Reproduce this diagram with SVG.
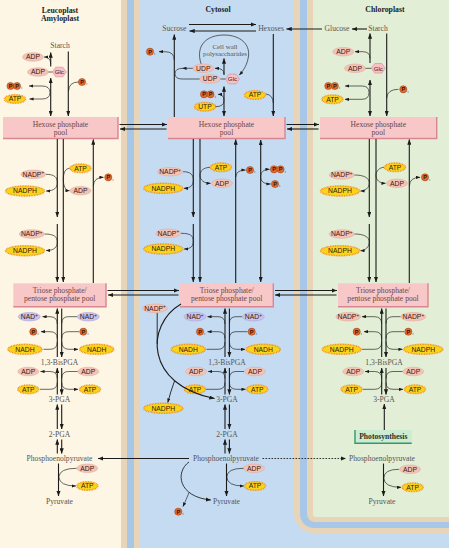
<svg xmlns="http://www.w3.org/2000/svg" width="449" height="548" viewBox="0 0 449 548">
<defs>
<marker id="a" viewBox="0 0 8 6" refX="7.6" refY="3" markerWidth="5.5" markerHeight="4.2" markerUnits="userSpaceOnUse" orient="auto-start-reverse"><path d="M0,0 L8,3 L0,6 z" fill="#1b1b1b"/></marker>
<marker id="s" viewBox="0 0 8 6" refX="7.6" refY="3" markerWidth="4.3" markerHeight="3.3" markerUnits="userSpaceOnUse" orient="auto-start-reverse"><path d="M0,0 L8,3 L0,6 z" fill="#1b1b1b"/></marker>
<style>
.lb{font-family:"Liberation Serif","Times New Roman",serif;font-size:7.6px;fill:#555;text-anchor:middle}
.bx{font-family:"Liberation Serif","Times New Roman",serif;font-size:7.6px;fill:#6b4646;text-anchor:middle}
.tt{font-family:"Liberation Serif","Times New Roman",serif;font-size:7.8px;font-weight:bold;fill:#222;text-anchor:middle}
.ph{font-family:"Liberation Serif","Times New Roman",serif;font-size:7.6px;font-weight:bold;fill:#1d3326;text-anchor:middle}
.mt{font-family:"Liberation Sans",Arial,sans-serif;font-size:6.8px;fill:#3a160c;text-anchor:middle}
.sup{font-size:4.6px}
.pk{fill:#f3c3b7;stroke:#e3a493;stroke-width:.5}
.yl{fill:#f9d41b;stroke:#f2901c;stroke-width:1.5;stroke-dasharray:.9 .7}
.lv{fill:#c9c3ec;stroke:#a49cd8;stroke-width:.5}
.pc{fill:#e06b2c;stroke:#8c3212;stroke-width:.45}
.pt{font-family:"Liberation Sans",Arial,sans-serif;font-size:5.6px;font-weight:bold;fill:#3a1206;text-anchor:middle}
.ps{font-family:"Liberation Sans",Arial,sans-serif;font-size:4.2px;fill:#333;text-anchor:middle}
.gl{fill:#f6c2c6;stroke:#d9848d;stroke-width:.6}
.gt{font-family:"Liberation Sans",Arial,sans-serif;font-size:6.2px;fill:#3a160c;text-anchor:middle}
.box{fill:#f8c8c9}
.bsh{fill:none;stroke:#d8868f;stroke-width:1.4}
.pbox{fill:#cdebd3}
.pbsh{fill:none;stroke:#2e9b6a;stroke-width:1.4}
.ln{fill:none;stroke:#1b1b1b;stroke-width:1.1}
.cv{fill:none;stroke:#1b1b1b;stroke-width:.65}
.dt{stroke-dasharray:1.6 1.4;stroke-width:.9}
.e{marker-end:url(#a)}
.sa{marker-start:url(#a)}
.es{marker-end:url(#s)}
.ss{marker-start:url(#s)}
</style>
</defs>

<g id="background">
<rect width="449" height="548" fill="#c5dbf1"/>
<rect width="121" height="548" fill="#fdf6e4"/>
<rect x="121" width="6" height="548" fill="#e8d4b7"/>
<rect x="127" width="7" height="548" fill="#a7c7e8"/>
<rect x="134" width="6" height="548" fill="#e8d4b7"/>
<rect x="294" y="-40" width="200" height="573" rx="20" fill="#e8d4b7"/>
<rect x="300" y="-40" width="200" height="568" rx="14" fill="#a7c7e8"/>
<rect x="307" y="-40" width="200" height="562" rx="8" fill="#e8d4b7"/>
<rect x="313" y="-40" width="200" height="557" rx="3" fill="#e3eed6"/>
</g>

<g id="titles">
<text class="tt" x="60" y="13">Leucoplast</text>
<text class="tt" x="60" y="21">Amyloplast</text>
<text class="tt" x="218" y="12">Cytosol</text>
<text class="tt" x="385" y="12">Chloroplast</text>
</g>

<g id="labels">
<text id="L_starch" class="lb" x="60" y="48">Starch</text>
<text id="C_sucrose" class="lb" x="174.3" y="31">Sucrose</text>
<text id="C_hexoses" class="lb" x="271" y="31">Hexoses</text>
<text id="P_glucose" class="lb" x="337" y="31">Glucose</text>
<text id="P_starch" class="lb" x="378" y="31">Starch</text>
<text id="C_cellwall" class="lb" x="225" y="48.5" style="font-size:6.9px">Cell wall</text>
<text id="C_polysacch" class="lb" x="225" y="55.5" style="font-size:6.9px">polysaccharides</text>
<text class="lb" x="59.5" y="365">1,3-BisPGA</text>
<text class="lb" x="227" y="365">1,3-BisPGA</text>
<text class="lb" x="384" y="365">1,3-BisPGA</text>
<text class="lb" x="59.5" y="401.5">3-PGA</text>
<text class="lb" x="227" y="401.5">3-PGA</text>
<text class="lb" x="384" y="401.5">3-PGA</text>
<text class="lb" x="59.5" y="436.5">2-PGA</text>
<text class="lb" x="227" y="436.5">2-PGA</text>
<text class="lb" x="59.5" y="461">Phosphoenolpyruvate</text>
<text class="lb" x="226" y="461">Phosphoenolpyruvate</text>
<text class="lb" x="382" y="461">Phosphoenolpyruvate</text>
<text class="lb" x="59.5" y="504">Pyruvate</text>
<text class="lb" x="226.5" y="504">Pyruvate</text>
<text class="lb" x="382" y="504">Pyruvate</text>
</g>

<g id="boxes">
<g id="L_hexpool"><rect class="box" x="3" y="117" width="115" height="21.5"/><path class="bsh" d="M118,117 V138.5 H3"/><text class="bx" x="60.5" y="127.3">Hexose phosphate</text><text class="bx" x="60.5" y="135.3">pool</text></g>
<g id="C_hexpool"><rect class="box" x="168" y="117" width="117" height="21.5"/><path class="bsh" d="M285,117 V138.5 H168"/><text class="bx" x="226.5" y="127.3">Hexose phosphate</text><text class="bx" x="226.5" y="135.3">pool</text></g>
<g id="P_hexpool"><rect class="box" x="320" y="117" width="116.7" height="21.5"/><path class="bsh" d="M436.7,117 V138.5 H320"/><text class="bx" x="378.3" y="127.3">Hexose phosphate</text><text class="bx" x="378.3" y="135.3">pool</text></g>
<g id="L_tripool"><rect class="box" x="13.3" y="283.3" width="92.7" height="23.4"/><path class="bsh" d="M106,283.3 V306.7 H13.3"/><text class="bx" x="59.7" y="292.8">Triose phosphate/</text><text class="bx" x="59.7" y="300.8">pentose phosphate pool</text></g>
<g id="C_tripool"><rect class="box" x="180" y="283.3" width="93.3" height="23.4"/><path class="bsh" d="M273.3,283.3 V306.7 H180"/><text class="bx" x="226.7" y="292.8">Triose phosphate/</text><text class="bx" x="226.7" y="300.8">pentose phosphate pool</text></g>
<g id="P_tripool"><rect class="box" x="338" y="283.3" width="90" height="23.4"/><path class="bsh" d="M428,283.3 V306.7 H338"/><text class="bx" x="383" y="292.8">Triose phosphate/</text><text class="bx" x="383" y="300.8">pentose phosphate pool</text></g>
<g id="P_photosynthesis"><rect class="pbox" x="355" y="430" width="56.7" height="13.3"/><path class="pbsh" d="M355,430 V443.3 H411.7"/><text class="ph" x="383.3" y="439.3">Photosynthesis</text></g>
</g>

<g id="molecules-leucoplast">
<g id="L_ADP1"><ellipse class="pk" cx="33" cy="57" rx="10.5" ry="4.3"/><text class="mt" x="33" y="59.4">ADP</text></g>
<g id="L_ADP2"><ellipse class="pk" cx="38" cy="72" rx="10.5" ry="4.3"/><text class="mt" x="38" y="74.4">ADP</text></g>
<g id="L_Glc"><polygon class="gl" points="52.3,72 55.8,67.2 62.8,67.2 66.3,72 62.8,76.8 55.8,76.8"/><text class="gt" x="59.3" y="74.2">Glc</text></g>
<g id="L_PPi"><circle class="pc" cx="10.5" cy="86" r="3.6"/><text class="pt" x="10.5" y="88">P</text><circle class="pc" cx="17" cy="86" r="3.6"/><text class="pt" x="17" y="88">P</text><text class="ps" x="21.6" y="89.4">i</text></g>
<g id="L_ATP1"><ellipse class="yl" cx="15" cy="99" rx="10.5" ry="4.3"/><text class="mt" x="15" y="101.4">ATP</text></g>
<g id="L_Pi1"><circle class="pc" cx="82" cy="82" r="3.6"/><text class="pt" x="82" y="84">P</text><text class="ps" x="86.6" y="85.4">i</text></g>
<g id="L_NADP1"><ellipse class="pk" cx="33.3" cy="174.3" rx="12.5" ry="4.3"/><text class="mt" x="33.3" y="176.7">NADP<tspan class="sup" dy="-2.6">+</tspan></text></g>
<g id="L_NADPH1"><ellipse class="yl" cx="25" cy="191" rx="19.5" ry="5"/><text class="mt" x="25" y="193.4">NADPH</text></g>
<g id="L_ATP2"><ellipse class="yl" cx="80.5" cy="168.3" rx="10.5" ry="4.3"/><text class="mt" x="80.5" y="170.7">ATP</text></g>
<g id="L_ADP3"><ellipse class="pk" cx="80.5" cy="190.7" rx="10.5" ry="4.3"/><text class="mt" x="80.5" y="193.1">ADP</text></g>
<g id="L_Pi2"><circle class="pc" cx="108.3" cy="177.3" r="3.6"/><text class="pt" x="108.3" y="179.3">P</text><text class="ps" x="112.9" y="180.7">i</text></g>
<g id="L_NADP2"><ellipse class="pk" cx="31.7" cy="234" rx="12.5" ry="4.3"/><text class="mt" x="31.7" y="236.4">NADP<tspan class="sup" dy="-2.6">+</tspan></text></g>
<g id="L_NADPH2"><ellipse class="yl" cx="25" cy="250.7" rx="19.5" ry="5"/><text class="mt" x="25" y="253.1">NADPH</text></g>
<g id="L_NAD1"><ellipse class="lv" cx="29.3" cy="316.7" rx="11" ry="4.3"/><text class="mt" x="29.3" y="319.1">NAD<tspan class="sup" dy="-2.6">+</tspan></text></g>
<g id="L_Pi3"><circle class="pc" cx="33.3" cy="331.7" r="3.6"/><text class="pt" x="33.3" y="333.7">P</text><text class="ps" x="37.9" y="335.1">i</text></g>
<g id="L_NADH1"><ellipse class="yl" cx="25" cy="349.3" rx="17" ry="5"/><text class="mt" x="25" y="351.7">NADH</text></g>
<g id="L_NAD2"><ellipse class="lv" cx="88.3" cy="316.7" rx="11" ry="4.3"/><text class="mt" x="88.3" y="319.1">NAD<tspan class="sup" dy="-2.6">+</tspan></text></g>
<g id="L_Pi4"><circle class="pc" cx="83.3" cy="331.7" r="3.6"/><text class="pt" x="83.3" y="333.7">P</text><text class="ps" x="87.9" y="335.1">i</text></g>
<g id="L_NADH2"><ellipse class="yl" cx="96.7" cy="349.3" rx="17" ry="5"/><text class="mt" x="96.7" y="351.7">NADH</text></g>
<g id="L_ADP4"><ellipse class="pk" cx="28.3" cy="371.5" rx="10.5" ry="4.3"/><text class="mt" x="28.3" y="373.9">ADP</text></g>
<g id="L_ATP3"><ellipse class="yl" cx="28.3" cy="389.3" rx="10.5" ry="4.3"/><text class="mt" x="28.3" y="391.7">ATP</text></g>
<g id="L_ADP5"><ellipse class="pk" cx="88.3" cy="371.5" rx="10.5" ry="4.3"/><text class="mt" x="88.3" y="373.9">ADP</text></g>
<g id="L_ATP4"><ellipse class="yl" cx="90" cy="389.3" rx="10.5" ry="4.3"/><text class="mt" x="90" y="391.7">ATP</text></g>
<g id="L_ADP6"><ellipse class="pk" cx="87.3" cy="468.3" rx="10.5" ry="4.3"/><text class="mt" x="87.3" y="470.7">ADP</text></g>
<g id="L_ATP5"><ellipse class="yl" cx="87.3" cy="486" rx="10.5" ry="4.3"/><text class="mt" x="87.3" y="488.4">ATP</text></g>
</g>

<g id="molecules-cytosol">
<g id="C_Pi1"><circle class="pc" cx="150" cy="51.7" r="3.6"/><text class="pt" x="150" y="53.7">P</text><text class="ps" x="154.6" y="55.1">i</text></g>
<g id="C_UDP1"><ellipse class="pk" cx="203.3" cy="68.3" rx="10.5" ry="4.3"/><text class="mt" x="203.3" y="70.7">UDP</text></g>
<g id="C_UDP2"><ellipse class="pk" cx="210" cy="79" rx="10.5" ry="4.3"/><text class="mt" x="210" y="81.4">UDP</text></g>
<g id="C_Glc"><polygon class="gl" points="225.5,79 229,74.2 236,74.2 239.5,79 236,83.8 229,83.8"/><text class="gt" x="232.5" y="81.2">Glc</text></g>
<g id="C_PPi1"><circle class="pc" cx="204" cy="94.3" r="3.6"/><text class="pt" x="204" y="96.3">P</text><circle class="pc" cx="210.5" cy="94.3" r="3.6"/><text class="pt" x="210.5" y="96.3">P</text><text class="ps" x="215.1" y="97.7">i</text></g>
<g id="C_UTP"><ellipse class="yl" cx="205" cy="106.7" rx="10.5" ry="4.3"/><text class="mt" x="205" y="109.1">UTP</text></g>
<g id="C_ATP1"><ellipse class="yl" cx="255" cy="95" rx="10.5" ry="4.3"/><text class="mt" x="255" y="97.4">ATP</text></g>
<g id="C_NADP1"><ellipse class="pk" cx="170" cy="171.7" rx="12.5" ry="4.3"/><text class="mt" x="170" y="174.1">NADP<tspan class="sup" dy="-2.6">+</tspan></text></g>
<g id="C_NADPH1"><ellipse class="yl" cx="163.3" cy="188.3" rx="19.5" ry="5"/><text class="mt" x="163.3" y="190.7">NADPH</text></g>
<g id="C_ATP2"><ellipse class="yl" cx="221" cy="167.3" rx="10.5" ry="4.3"/><text class="mt" x="221" y="169.7">ATP</text></g>
<g id="C_ADP1"><ellipse class="pk" cx="222" cy="183.3" rx="10.5" ry="4.3"/><text class="mt" x="222" y="185.7">ADP</text></g>
<g id="C_Pi2"><circle class="pc" cx="250" cy="170" r="3.6"/><text class="pt" x="250" y="172">P</text><text class="ps" x="254.6" y="173.4">i</text></g>
<g id="C_PPi2"><circle class="pc" cx="274" cy="169.3" r="3.6"/><text class="pt" x="274" y="171.3">P</text><circle class="pc" cx="280.5" cy="169.3" r="3.6"/><text class="pt" x="280.5" y="171.3">P</text><text class="ps" x="285.1" y="172.7">i</text></g>
<g id="C_Pi3"><circle class="pc" cx="275" cy="184" r="3.6"/><text class="pt" x="275" y="186">P</text><text class="ps" x="279.6" y="187.4">i</text></g>
<g id="C_NADP2"><ellipse class="pk" cx="168.3" cy="233.3" rx="12.5" ry="4.3"/><text class="mt" x="168.3" y="235.7">NADP<tspan class="sup" dy="-2.6">+</tspan></text></g>
<g id="C_NADPH2"><ellipse class="yl" cx="163.3" cy="249" rx="19.5" ry="5"/><text class="mt" x="163.3" y="251.4">NADPH</text></g>
<g id="C_NADP3"><ellipse class="pk" cx="155" cy="308.3" rx="12.5" ry="4.3"/><text class="mt" x="155" y="310.7">NADP<tspan class="sup" dy="-2.6">+</tspan></text></g>
<g id="C_NADPH3"><ellipse class="yl" cx="163.3" cy="408.3" rx="19.5" ry="5"/><text class="mt" x="163.3" y="410.7">NADPH</text></g>
<g id="C_NAD1"><ellipse class="lv" cx="195" cy="316.7" rx="11" ry="4.3"/><text class="mt" x="195" y="319.1">NAD<tspan class="sup" dy="-2.6">+</tspan></text></g>
<g id="C_Pi4"><circle class="pc" cx="200" cy="331.7" r="3.6"/><text class="pt" x="200" y="333.7">P</text><text class="ps" x="204.6" y="335.1">i</text></g>
<g id="C_NADH1"><ellipse class="yl" cx="188.3" cy="349.3" rx="17" ry="5"/><text class="mt" x="188.3" y="351.7">NADH</text></g>
<g id="C_NAD2"><ellipse class="lv" cx="253.3" cy="316.7" rx="11" ry="4.3"/><text class="mt" x="253.3" y="319.1">NAD<tspan class="sup" dy="-2.6">+</tspan></text></g>
<g id="C_Pi5"><circle class="pc" cx="251.7" cy="331.7" r="3.6"/><text class="pt" x="251.7" y="333.7">P</text><text class="ps" x="256.3" y="335.1">i</text></g>
<g id="C_NADH2"><ellipse class="yl" cx="263.3" cy="349.3" rx="17" ry="5"/><text class="mt" x="263.3" y="351.7">NADH</text></g>
<g id="C_ADP2"><ellipse class="pk" cx="196" cy="371.5" rx="10.5" ry="4.3"/><text class="mt" x="196" y="373.9">ADP</text></g>
<g id="C_ATP3"><ellipse class="yl" cx="195" cy="389.3" rx="10.5" ry="4.3"/><text class="mt" x="195" y="391.7">ATP</text></g>
<g id="C_ADP3"><ellipse class="pk" cx="255" cy="371.5" rx="10.5" ry="4.3"/><text class="mt" x="255" y="373.9">ADP</text></g>
<g id="C_ATP4"><ellipse class="yl" cx="257.3" cy="389.3" rx="10.5" ry="4.3"/><text class="mt" x="257.3" y="391.7">ATP</text></g>
<g id="C_ADP4"><ellipse class="pk" cx="254" cy="468.3" rx="10.5" ry="4.3"/><text class="mt" x="254" y="470.7">ADP</text></g>
<g id="C_ATP5"><ellipse class="yl" cx="255" cy="486" rx="10.5" ry="4.3"/><text class="mt" x="255" y="488.4">ATP</text></g>
<g id="C_Pi6"><circle class="pc" cx="178.3" cy="511.7" r="3.6"/><text class="pt" x="178.3" y="513.7">P</text><text class="ps" x="182.9" y="515.1">i</text></g>
</g>

<g id="molecules-chloroplast">
<g id="P_ADP1"><ellipse class="pk" cx="343.3" cy="51.7" rx="10.5" ry="4.3"/><text class="mt" x="343.3" y="54.1">ADP</text></g>
<g id="P_ADP2"><ellipse class="pk" cx="355" cy="68.3" rx="10.5" ry="4.3"/><text class="mt" x="355" y="70.7">ADP</text></g>
<g id="P_Glc"><polygon class="gl" points="371.3,68.3 374.8,63.5 381.8,63.5 385.3,68.3 381.8,73.1 374.8,73.1"/><text class="gt" x="378.3" y="70.5">Glc</text></g>
<g id="P_PPi"><circle class="pc" cx="328.3" cy="86" r="3.6"/><text class="pt" x="328.3" y="88">P</text><circle class="pc" cx="334.8" cy="86" r="3.6"/><text class="pt" x="334.8" y="88">P</text><text class="ps" x="339.4" y="89.4">i</text></g>
<g id="P_ATP1"><ellipse class="yl" cx="332.5" cy="99.3" rx="10.5" ry="4.3"/><text class="mt" x="332.5" y="101.7">ATP</text></g>
<g id="P_Pi1"><circle class="pc" cx="403.3" cy="89.3" r="3.6"/><text class="pt" x="403.3" y="91.3">P</text><text class="ps" x="407.9" y="92.7">i</text></g>
<g id="P_NADP1"><ellipse class="pk" cx="341.7" cy="175" rx="12.5" ry="4.3"/><text class="mt" x="341.7" y="177.4">NADP<tspan class="sup" dy="-2.6">+</tspan></text></g>
<g id="P_NADPH1"><ellipse class="yl" cx="340" cy="191" rx="19.5" ry="5"/><text class="mt" x="340" y="193.4">NADPH</text></g>
<g id="P_ATP2"><ellipse class="yl" cx="395" cy="167.3" rx="10.5" ry="4.3"/><text class="mt" x="395" y="169.7">ATP</text></g>
<g id="P_ADP3"><ellipse class="pk" cx="397" cy="183.3" rx="10.5" ry="4.3"/><text class="mt" x="397" y="185.7">ADP</text></g>
<g id="P_Pi2"><circle class="pc" cx="425" cy="177.3" r="3.6"/><text class="pt" x="425" y="179.3">P</text><text class="ps" x="429.6" y="180.7">i</text></g>
<g id="P_NADP2"><ellipse class="pk" cx="341.7" cy="234" rx="12.5" ry="4.3"/><text class="mt" x="341.7" y="236.4">NADP<tspan class="sup" dy="-2.6">+</tspan></text></g>
<g id="P_NADPH2"><ellipse class="yl" cx="340" cy="250.7" rx="19.5" ry="5"/><text class="mt" x="340" y="253.1">NADPH</text></g>
<g id="P_NADP3"><ellipse class="pk" cx="348.3" cy="316.7" rx="12.5" ry="4.3"/><text class="mt" x="348.3" y="319.1">NADP<tspan class="sup" dy="-2.6">+</tspan></text></g>
<g id="P_Pi3"><circle class="pc" cx="356.7" cy="331.7" r="3.6"/><text class="pt" x="356.7" y="333.7">P</text><text class="ps" x="361.3" y="335.1">i</text></g>
<g id="P_NADPH3"><ellipse class="yl" cx="341.7" cy="349.3" rx="19.5" ry="5"/><text class="mt" x="341.7" y="351.7">NADPH</text></g>
<g id="P_NADP4"><ellipse class="pk" cx="413.3" cy="316.7" rx="12.5" ry="4.3"/><text class="mt" x="413.3" y="319.1">NADP<tspan class="sup" dy="-2.6">+</tspan></text></g>
<g id="P_Pi4"><circle class="pc" cx="408.3" cy="331.7" r="3.6"/><text class="pt" x="408.3" y="333.7">P</text><text class="ps" x="412.9" y="335.1">i</text></g>
<g id="P_NADPH4"><ellipse class="yl" cx="423.3" cy="349.3" rx="19.5" ry="5"/><text class="mt" x="423.3" y="351.7">NADPH</text></g>
<g id="P_ADP4"><ellipse class="pk" cx="353.3" cy="371.5" rx="10.5" ry="4.3"/><text class="mt" x="353.3" y="373.9">ADP</text></g>
<g id="P_ATP3"><ellipse class="yl" cx="351.7" cy="389.3" rx="10.5" ry="4.3"/><text class="mt" x="351.7" y="391.7">ATP</text></g>
<g id="P_ADP5"><ellipse class="pk" cx="413.3" cy="371.5" rx="10.5" ry="4.3"/><text class="mt" x="413.3" y="373.9">ADP</text></g>
<g id="P_ATP4"><ellipse class="yl" cx="415" cy="389.3" rx="10.5" ry="4.3"/><text class="mt" x="415" y="391.7">ATP</text></g>
<g id="P_ADP6"><ellipse class="pk" cx="410" cy="469.3" rx="10.5" ry="4.3"/><text class="mt" x="410" y="471.7">ADP</text></g>
<g id="P_ATP5"><ellipse class="yl" cx="412.7" cy="487.3" rx="10.5" ry="4.3"/><text class="mt" x="412.7" y="489.7">ATP</text></g>
</g>

<g id="connectors">
<!-- transport between compartments -->
<path class="ln e" d="M189,24.5 H256"/>
<path class="ln e" d="M256,31 H189.5"/>
<path class="ln e" d="M322,29 H286.5"/>
<path class="ln e" d="M367,29 H352"/>
<path class="ln e" d="M119.5,124.5 H167"/>
<path class="ln e" d="M166.5,129 H120"/>
<path class="ln e" d="M286.5,124.5 H319"/>
<path class="ln e" d="M318.5,129 H287"/>
<path class="ln e" d="M107.5,290.5 H179"/>
<path class="ln e" d="M178.5,295 H108"/>
<path class="ln e" d="M275,290.5 H337"/>
<path class="ln e" d="M336.5,295 H275"/>
<path class="ln e" d="M189,458.5 H98"/>
<path class="ln e dt" d="M262.5,458.5 H346"/>

<!-- leucoplast top -->
<path class="ln e" d="M50.7,66.5 V52.5"/>
<path class="ln e sa" d="M50.7,78 V116"/>
<path class="ln e" d="M68.3,51.5 V116"/>
<path class="cv es" d="M50.7,64 Q50.7,57 44,57"/>
<path class="cv" d="M48.5,72 H52.3"/>
<path class="cv es ss" d="M29,86 H42 Q50,86 50,92.5 Q50,99 42,99 H29.5"/>
<path class="cv" d="M78.5,82 Q69,82 68.5,91"/>

<!-- cytosol top -->
<path class="ln e" d="M174.3,117 V34.5"/>
<path class="ln e" d="M273.3,34 V116"/>
<path class="ln e" d="M224,75 V58.5"/>
<path class="ln e sa" d="M224,86.5 V116"/>
<path class="cv es" d="M174.3,60 Q174.3,51.7 165,51.7 H159"/>
<path class="cv es" d="M224,74 Q224,68.3 216,68.3 H215"/>
<path class="cv es" d="M192.8,68.3 H182.5"/>
<path class="cv" d="M183,68.3 Q175,68.3 175,73.6 Q175,79 182,79 H199.5"/>
<path class="cv" d="M220.5,79 H225.5"/>
<path class="cv es" d="M201,63.8 C195,44 208,35 224,35 C240,35 250,44 248.5,56 C247.5,64 244,70 239.3,75"/>
<path class="cv es" d="M215.5,106.7 Q224,106.7 224,100.5 Q224,94.3 218,94.3"/>
<path class="cv" d="M266,94 Q273,95 273.3,103"/>

<!-- chloroplast top -->
<path class="ln e" d="M370,63 V33.5"/>
<path class="ln e sa" d="M370,80 V116"/>
<path class="ln e" d="M386.7,33.5 V116"/>
<path class="cv es" d="M370,58.5 Q370,51.7 363,51.7 H355"/>
<path class="cv" d="M365.5,68.3 H371.3"/>
<path class="cv es ss" d="M345,86 H362 Q369,86 369,92.6 Q369,99.3 362,99.3 H345"/>
<path class="cv" d="M398.5,89.3 Q387.3,89.3 386.7,98"/>

<!-- leucoplast hexose to triose -->
<path class="ln e" d="M57.3,139 V217"/>
<path class="ln e" d="M57.3,224 V282"/>
<path class="ln e" d="M63.3,139 V282"/>
<path class="ln e" d="M93.3,283 V139.5"/>
<path class="cv es" d="M46,174.3 C54.5,174.3 57.3,177.5 57.3,182.5 C57.3,187.5 54.5,191 46,191"/>
<path class="cv es" d="M69.5,168.3 C65.5,168.5 63.3,172.5 63.3,179.5 C63.3,186 65.5,190.7 69.5,190.7"/>
<path class="cv es" d="M93.3,186 Q93.8,177.3 103.5,177.3"/>
<path class="cv es" d="M44.5,234 C54.5,234 57.3,237 57.3,242 C57.3,247 54.5,250.5 46,250.5"/>

<!-- cytosol hexose to triose -->
<path class="ln e" d="M193.3,139 V217"/>
<path class="ln e" d="M193.3,224 V282"/>
<path class="ln e" d="M200,139 V282"/>
<path class="ln e" d="M235.7,283 V139.5"/>
<path class="ln e sa" d="M260.7,140 V282"/>
<path class="cv es" d="M183,171.7 C191,171.7 193.3,175 193.3,180 C193.3,185 191,188.3 184,188.3"/>
<path class="cv es" d="M210,167.3 C204,167.5 200,170.5 200,175.3 C200,180.3 204,183.3 210.5,183.3"/>
<path class="cv es" d="M235.7,177 Q236.2,170 245.5,170"/>
<path class="cv es ss" d="M269.5,169.3 C263,169.3 260.7,172.5 260.7,176.7 C260.7,181 263,184 270.5,184"/>
<path class="cv es" d="M181,233.3 C191,233.3 193.3,236 193.3,241 C193.3,246 191,249 184,249"/>

<!-- chloroplast hexose to triose -->
<path class="ln e" d="M369.3,139 V217"/>
<path class="ln e" d="M369.3,224 V282"/>
<path class="ln e" d="M376,139 V282"/>
<path class="ln e" d="M409.3,283 V139.5"/>
<path class="cv es" d="M354.5,175 C364,175 369.3,178 369.3,183 C369.3,188 365,191 360.5,191"/>
<path class="cv es" d="M384,167.3 C379.5,167.5 376,171 376,175.3 C376,180 379.5,183.3 385.5,183.3"/>
<path class="cv es" d="M409.3,186 Q409.8,177.3 420,177.3"/>
<path class="cv es" d="M354.5,234 C364,234 369.3,237 369.3,242 C369.3,247 365,250.7 360.5,250.7"/>

<!-- leucoplast lower glycolysis -->
<path class="ln e" d="M57.3,357 V308.5"/>
<path class="ln e" d="M61.7,308.5 V357"/>
<path class="ln e" d="M57.3,394.5 V368"/>
<path class="ln e" d="M61.7,368 V394.5"/>
<path class="ln e" d="M57.3,429 V404.5"/>
<path class="ln e" d="M61.7,404.5 V429"/>
<path class="ln e" d="M57.3,453.5 V439.5"/>
<path class="ln e" d="M61.7,439.5 V453.5"/>
<path class="ln e" d="M58.5,463.5 V496"/>
<path class="cv es" d="M57.3,324 Q57.3,316.7 50,316.7 H42.5"/>
<path class="cv es" d="M57.3,338.5 Q57.3,331.7 50,331.7 H41"/>
<path class="cv" d="M43.5,349.3 H50 Q57.3,349.3 57.3,342"/>
<path class="cv" d="M77,316.7 H68.5 Q61.7,316.7 61.7,323.5"/>
<path class="cv" d="M79,331.7 H68.5 Q61.7,331.7 61.7,338.5"/>
<path class="cv es" d="M61.7,341.5 Q61.7,349.3 69,349.3 H78"/>
<path class="cv es" d="M57.3,378.5 Q57.3,371.5 50,371.5 H40.5"/>
<path class="cv" d="M40,389.3 H50 Q57.3,389.3 57.3,382.5"/>
<path class="cv" d="M77.5,371.5 H68.5 Q61.7,371.5 61.7,378.5"/>
<path class="cv es" d="M61.7,382.5 Q61.7,389.3 69,389.3 H78"/>
<path class="cv es" d="M76.5,468.3 Q59.5,468.3 58.8,477 Q59.5,486 76,486"/>

<!-- cytosol lower glycolysis -->
<path class="ln e" d="M225,357 V308.5"/>
<path class="ln e" d="M229.4,308.5 V357"/>
<path class="ln e" d="M225,394.5 V368"/>
<path class="ln e" d="M229.4,368 V394.5"/>
<path class="ln e" d="M225,429 V404.5"/>
<path class="ln e" d="M229.4,404.5 V429"/>
<path class="ln e" d="M225,453.5 V439.5"/>
<path class="ln e" d="M229.4,439.5 V453.5"/>
<path class="ln e" d="M226.5,463.5 V496"/>
<path class="cv es" d="M225,324 Q225,316.7 218,316.7 H207.5"/>
<path class="cv es" d="M225,338.5 Q225,331.7 218,331.7 H207.5"/>
<path class="cv" d="M206.5,349.3 H218 Q225,349.3 225,342"/>
<path class="cv" d="M242,316.7 H236 Q229.4,316.7 229.4,323.5"/>
<path class="cv" d="M247.5,331.7 H236 Q229.4,331.7 229.4,338.5"/>
<path class="cv es" d="M229.4,341.5 Q229.4,349.3 236.5,349.3 H245"/>
<path class="cv es" d="M225,378.5 Q225,371.5 218,371.5 H208"/>
<path class="cv" d="M206,389.3 H218 Q225,389.3 225,382.5"/>
<path class="cv" d="M244,371.5 H236 Q229.4,371.5 229.4,378.5"/>
<path class="cv es" d="M229.4,382.5 Q229.4,389.3 236.5,389.3 H245.5"/>
<path class="ln e" d="M181,304 C145,325 145,385 214.5,398.5"/>
<path class="cv" d="M157.2,313 V344" style="stroke-width:.9"/>
<path class="cv es" d="M174.5,381 Q170.5,392 167.8,402.5" style="stroke-width:.9"/>
<path class="cv es" d="M243.5,468.3 Q227,468.3 226.8,477 Q227,486 243.8,486"/>
<path class="cv e" d="M189,462 C175,472 178,497 211,500" style="stroke-width:.85"/>
<path class="cv es" d="M189,492.5 Q186,500 183,506.5"/>

<!-- chloroplast lower -->
<path class="ln e" d="M381.7,357 V308.5"/>
<path class="ln e" d="M386,308.5 V357"/>
<path class="ln e" d="M381.7,394.5 V368"/>
<path class="ln e" d="M386,368 V394.5"/>
<path class="ln e" d="M384.3,430 V404"/>
<path class="ln e" d="M383.5,463.5 V496"/>
<path class="cv es" d="M381.7,324 Q381.7,316.7 374.5,316.7 H362"/>
<path class="cv es" d="M381.7,338.5 Q381.7,331.7 374.5,331.7 H364"/>
<path class="cv" d="M362,349.3 H374.5 Q381.7,349.3 381.7,342"/>
<path class="cv" d="M400.5,316.7 H393 Q386,316.7 386,323.5"/>
<path class="cv" d="M404,331.7 H393 Q386,331.7 386,338.5"/>
<path class="cv es" d="M386,341.5 Q386,349.3 393,349.3 H402.5"/>
<path class="cv es" d="M381.7,378.5 Q381.7,371.5 374.5,371.5 H365"/>
<path class="cv" d="M363,389.3 H374.5 Q381.7,389.3 381.7,382.5"/>
<path class="cv" d="M402.5,371.5 H393 Q386,371.5 386,378.5"/>
<path class="cv es" d="M386,382.5 Q386,389.3 393,389.3 H403"/>
<path class="cv es" d="M399,469.3 Q384,469.3 383.8,478 Q384,487.3 401,487.3"/>
</g>
</svg>
